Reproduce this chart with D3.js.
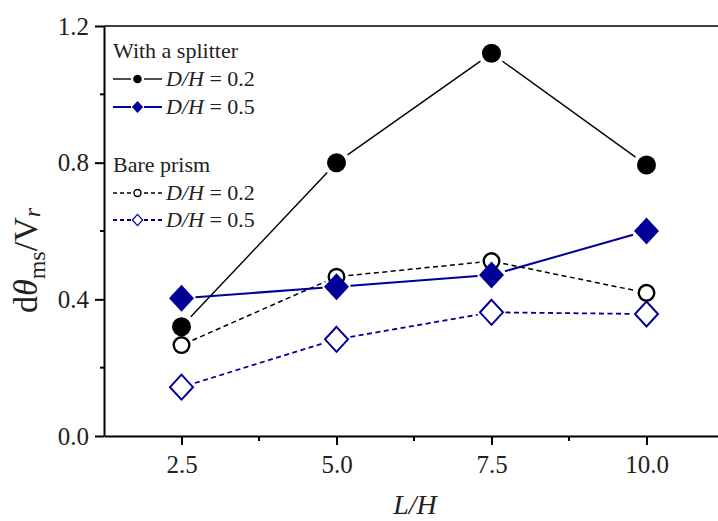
<!DOCTYPE html>
<html>
<head>
<meta charset="utf-8">
<script src="https://cdn.jsdelivr.net/npm/d3@7/dist/d3.min.js"></script>
<style>
  html, body { margin: 0; padding: 0; background: #fff; }
  svg { display: block; font-family: "Liberation Serif", "Times New Roman", serif; }
</style>
</head>
<body>
<svg id="chart" width="718" height="521"></svg>
<script>
// L/H positions
const ratios = [2.5, 5.0, 7.5, 10.0];

// dθ_ms / V_r values
const splitter02 = [0.32, 0.80, 1.12, 0.793];
const splitter05 = [0.403, 0.437, 0.471, 0.600];
const bare02 = [0.266, 0.466, 0.512, 0.419];
const bare05 = [0.143, 0.283, 0.362, 0.357];

const xMajorTicks = [2.5, 5.0, 7.5, 10.0];
const xMinorTicks = [3.75, 6.25, 8.75];
const yMajorTicks = [0.0, 0.4, 0.8, 1.2];
const yMinorTicks = [0.2, 0.6, 1.0];

const BLUE = "#000099";

const svg = d3.select("#chart");
const plotLeft = 104, plotTop = 26, plotBottom = 436, plotRight = 724;

const x = d3.scaleLinear().domain([1.25, 11.25]).range([plotLeft, plotRight]);
const y = d3.scaleLinear().domain([0, 1.2]).range([plotBottom, plotTop]);

// top frame line
svg.append("line")
  .attr("x1", plotLeft).attr("x2", plotRight)
  .attr("y1", plotTop).attr("y2", plotTop)
  .attr("stroke", "#000").attr("stroke-width", 1.4);

// x axis
const xAxis = svg.append("g")
  .attr("transform", `translate(0,${plotBottom})`)
  .call(d3.axisBottom(x).tickValues(xMajorTicks).tickFormat(d3.format(".1f")).tickSize(9).tickSizeOuter(0));
xAxis.select(".domain").attr("stroke-width", 2);
xAxis.selectAll(".tick line").attr("stroke-width", 2);
xAxis.selectAll(".tick text")
  .attr("y", 37).attr("dy", 0)
  .attr("font-size", 25).attr("font-family", "Liberation Serif").attr("fill", "#222");
svg.append("g").selectAll("line").data(xMinorTicks).join("line")
  .attr("x1", d => x(d)).attr("x2", d => x(d))
  .attr("y1", plotBottom).attr("y2", plotBottom + 5)
  .attr("stroke", "#000").attr("stroke-width", 2);

// y axis
const yAxis = svg.append("g")
  .attr("transform", `translate(${plotLeft},0)`)
  .call(d3.axisLeft(y).tickValues(yMajorTicks).tickFormat(d3.format(".1f")).tickSize(9).tickPadding(6).tickSizeOuter(0));
yAxis.select(".domain").attr("stroke-width", 2);
yAxis.selectAll(".tick line").attr("stroke-width", 2);
yAxis.selectAll(".tick text")
  .attr("font-size", 25).attr("font-family", "Liberation Serif").attr("fill", "#222");
svg.append("g").selectAll("line").data(yMinorTicks).join("line")
  .attr("x1", plotLeft - 4).attr("x2", plotLeft)
  .attr("y1", d => y(d)).attr("y2", d => y(d))
  .attr("stroke", "#000").attr("stroke-width", 2);

// axis titles
svg.append("text")
  .attr("x", 415).attr("y", 514)
  .attr("text-anchor", "middle")
  .attr("font-size", 28).attr("font-style", "italic").attr("fill", "#222")
  .text("L/H");

const yt = svg.append("text")
  .attr("transform", "translate(37,313) rotate(-90)")
  .attr("font-size", 34).attr("fill", "#222");
yt.append("tspan").text("d");
yt.append("tspan").attr("font-style", "italic").text("θ");
yt.append("tspan").attr("font-size", 24).attr("dy", 8).text("ms");
yt.append("tspan").attr("dy", -8).text("/V");
yt.append("tspan").attr("font-size", 24).attr("font-style", "italic").attr("dy", 3).text("r");

// marker shapes
function diamondPath(cx, cy, w, h) {
  return `M${cx},${cy - h}L${cx + w},${cy}L${cx},${cy + h}L${cx - w},${cy}Z`;
}

const series = [
  { values: bare05, label: "0.5", color: BLUE, width: 1.8, dash: "5,3.5", shape: "diamond", filled: false, gap: 14 },
  { values: bare02, label: "0.2", color: "#000", width: 1.5, dash: "5,3.5", shape: "circle", filled: false, gap: 12 },
  { values: splitter02, label: "0.2", color: "#000", width: 1.4, dash: null, shape: "circle", filled: true, gap: 13.5 },
  { values: splitter05, label: "0.5", color: BLUE, width: 2, dash: null, shape: "diamond", filled: true, gap: 14 }
];

function drawMarker(g, cx, cy, s, scale) {
  if (s.shape === "circle") {
    if (s.filled) {
      g.append("circle").attr("cx", cx).attr("cy", cy).attr("r", 9.5 * scale).attr("fill", s.color);
    } else {
      g.append("circle").attr("cx", cx).attr("cy", cy).attr("r", 7.8 * scale)
        .attr("fill", "#fff").attr("stroke", s.color).attr("stroke-width", 2.4 * Math.max(scale, 0.6));
    }
  } else {
    if (s.filled) {
      g.append("path").attr("d", diamondPath(cx, cy, 12.5 * scale, 13.5 * scale)).attr("fill", s.color);
    } else {
      g.append("path").attr("d", diamondPath(cx, cy, 11.5 * scale, 12.5 * scale))
        .attr("fill", "#fff").attr("stroke", s.color).attr("stroke-width", 2 * Math.max(scale, 0.6));
    }
  }
}

// connecting segments stop short of each marker
series.forEach(s => {
  const g = svg.append("g");
  const pts = ratios.map((r, i) => [x(r), y(s.values[i])]);
  for (let i = 0; i < pts.length - 1; i++) {
    const [x0, y0] = pts[i], [x1, y1] = pts[i + 1];
    const len = Math.hypot(x1 - x0, y1 - y0);
    const ux = (x1 - x0) / len, uy = (y1 - y0) / len;
    g.append("line")
      .attr("x1", x0 + ux * s.gap).attr("y1", y0 + uy * s.gap)
      .attr("x2", x1 - ux * s.gap).attr("y2", y1 - uy * s.gap)
      .attr("stroke", s.color).attr("stroke-width", s.width)
      .attr("stroke-dasharray", s.dash);
  }
  pts.forEach(([cx, cy]) => drawMarker(g, cx, cy, s, 1));
});

// legend
const legend = svg.append("g").attr("font-size", 22).attr("fill", "#222");
legend.append("text").attr("x", 113).attr("y", 58).text("With a splitter");
legend.append("text").attr("x", 113).attr("y", 172).text("Bare prism");

const legendRows = [
  { s: series[2], ly: 79, ty: 86 },
  { s: series[3], ly: 107, ty: 114 },
  { s: series[1], ly: 193, ty: 200 },
  { s: series[0], ly: 220, ty: 227 }
];
legendRows.forEach(({ s, ly, ty }) => {
  const g = legend.append("g");
  const cx = 137.5;
  [[113, cx - 6.5], [cx + 6.5, 162]].forEach(([a, b]) => {
    g.append("line").attr("x1", a).attr("x2", b).attr("y1", ly).attr("y2", ly)
      .attr("stroke", s.color).attr("stroke-width", s.width)
      .attr("stroke-dasharray", s.dash ? "4,3" : null);
  });
  drawMarker(g, cx, ly, s, 0.45);
  const t = g.append("text").attr("x", 166).attr("y", ty);
  t.append("tspan").attr("font-style", "italic").text("D/H");
  t.append("tspan").text(" = " + s.label);
});
</script>
</body>
</html>
